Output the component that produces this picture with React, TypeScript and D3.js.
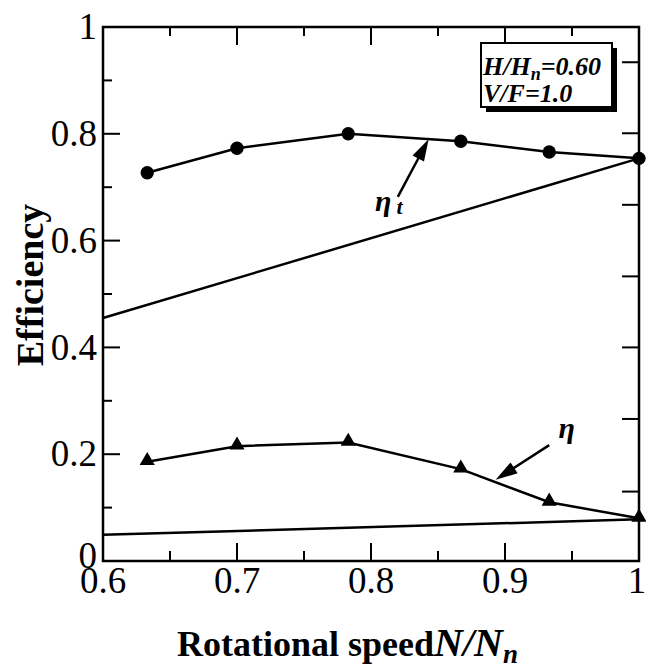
import React from "react";
import * as d3 from "d3";

// rotational speed N/Nn at the measured points
const speedRatio = [0.633, 0.7, 0.783, 0.867, 0.933, 1.0];
// total efficiency eta_t (circles)
const etaTotal = [0.727, 0.773, 0.8, 0.786, 0.766, 0.754];
// efficiency eta (triangles)
const etaPump = [0.186, 0.215, 0.222, 0.172, 0.11, 0.08];

// straight reference lines
const refSpeed = [0.6, 1.0];
const refEtaTotal = [0.455, 0.754];
const refEtaPump = [0.049, 0.078];

const xMajor = [0.6, 0.7, 0.8, 0.9, 1.0];
const xMinor = [0.65, 0.75, 0.85, 0.95];
const xTickLabels = ["0.6", "0.7", "0.8", "0.9", "1"];
const yMajor = [0, 0.2, 0.4, 0.6, 0.8, 1.0];
const yMinor = [0.1, 0.3, 0.5, 0.7, 0.9];
const yTickLabels = ["0", "0.2", "0.4", "0.6", "0.8", "1"];
// right-hand frame ticks (separate spacing)
const rightTicks = [0.934, 0.801, 0.667, 0.533, 0.4, 0.266, 0.13];

const W = 646,
  H = 672;
const left = 103,
  right = 639,
  top = 27,
  bottom = 561;
const serif = "Liberation Serif";

function arrow(x1: number, y1: number, x2: number, y2: number, len = 22, half = 6.5) {
  const dx = x2 - x1,
    dy = y2 - y1;
  const d = Math.sqrt(dx * dx + dy * dy);
  const ux = dx / d,
    uy = dy / d;
  const bx = x2 - ux * len,
    by = y2 - uy * len;
  const p = d3.path();
  p.moveTo(x2, y2);
  p.lineTo(bx - uy * half, by + ux * half);
  p.lineTo(bx + uy * half, by - ux * half);
  p.closePath();
  return { shaft: [x1, y1, bx + ux * 4, by + uy * 4], head: p.toString() };
}

export default function App() {
  const x = d3.scaleLinear().domain([0.6, 1.0]).range([left, right]);
  const y = d3.scaleLinear().domain([0, 1]).range([bottom, top]);

  const line = d3
    .line<[number, number]>()
    .x((d) => x(d[0]))
    .y((d) => y(d[1]));

  const tot = speedRatio.map((s, i) => [s, etaTotal[i]] as [number, number]);
  const pump = speedRatio.map((s, i) => [s, etaPump[i]] as [number, number]);
  const refTot = refSpeed.map((s, i) => [s, refEtaTotal[i]] as [number, number]);
  const refPump = refSpeed.map((s, i) => [s, refEtaPump[i]] as [number, number]);

  const tri = d3.symbol(d3.symbolTriangle, 100)();
  const dot = d3.symbol(d3.symbolCircle, 140)();

  const a1 = arrow(x(0.82), y(0.682), x(0.843), y(0.79));
  const a2 = arrow(x(0.933), y(0.217), x(0.893), y(0.152));

  return (
    <svg
      width={W}
      height={H}
      style={{ position: "absolute", left: 0, top: 0, background: "#fff", fontFamily: serif }}
    >
      {/* frame */}
      <rect
        x={left}
        y={top}
        width={right - left}
        height={bottom - top}
        fill="none"
        stroke="#000"
        strokeWidth={2.5}
      />

      {/* ticks */}
      {xMajor.map((v) => (
        <g key={"xM" + v}>
          <line x1={x(v)} x2={x(v)} y1={bottom} y2={bottom - 18} stroke="#000" strokeWidth={2} />
          <line x1={x(v)} x2={x(v)} y1={top} y2={top + 18} stroke="#000" strokeWidth={2} />
        </g>
      ))}
      {xMinor.map((v) => (
        <g key={"xm" + v}>
          <line x1={x(v)} x2={x(v)} y1={bottom} y2={bottom - 10} stroke="#000" strokeWidth={2} />
          <line x1={x(v)} x2={x(v)} y1={top} y2={top + 9} stroke="#000" strokeWidth={2} />
        </g>
      ))}
      {yMajor.map((v) => (
        <line key={"yM" + v} x1={left} x2={left + 17} y1={y(v)} y2={y(v)} stroke="#000" strokeWidth={2} />
      ))}
      {yMinor.map((v) => (
        <line key={"ym" + v} x1={left} x2={left + 9} y1={y(v)} y2={y(v)} stroke="#000" strokeWidth={2} />
      ))}
      {rightTicks.map((v) => (
        <line key={"r" + v} x1={right} x2={right - 17} y1={y(v)} y2={y(v)} stroke="#000" strokeWidth={2} />
      ))}

      {/* tick labels */}
      {xMajor.map((v, i) => (
        <text
          key={"xl" + v}
          x={x(v) - (i === xMajor.length - 1 ? 2 : 0)}
          y={bottom + 32}
          textAnchor="middle"
          fontFamily={serif}
          fontSize={37}
        >
          {xTickLabels[i]}
        </text>
      ))}
      {yMajor.map((v, i) => (
        <text
          key={"yl" + v}
          x={left - 6}
          y={y(v) - (i === 0 ? 5 : 0)}
          dy="0.33em"
          textAnchor="end"
          fontFamily={serif}
          fontSize={37}
        >
          {yTickLabels[i]}
        </text>
      ))}

      {/* reference lines */}
      <path d={line(refTot) || ""} fill="none" stroke="#000" strokeWidth={2.5} />
      <path d={line(refPump) || ""} fill="none" stroke="#000" strokeWidth={2.5} />

      {/* measured curves */}
      <path d={line(tot) || ""} fill="none" stroke="#000" strokeWidth={2.5} />
      <path d={line(pump) || ""} fill="none" stroke="#000" strokeWidth={2.5} />
      {tot.map((d, i) => (
        <path key={"c" + i} d={dot || ""} transform={`translate(${x(d[0])},${y(d[1])})`} fill="#000" />
      ))}
      {pump.map((d, i) => (
        <path key={"t" + i} d={tri || ""} transform={`translate(${x(d[0])},${y(d[1]) - 1})`} fill="#000" />
      ))}

      {/* annotations */}
      <line x1={a1.shaft[0]} y1={a1.shaft[1]} x2={a1.shaft[2]} y2={a1.shaft[3]} stroke="#000" strokeWidth={2.5} />
      <path d={a1.head} fill="#000" />
      <line x1={a2.shaft[0]} y1={a2.shaft[1]} x2={a2.shaft[2]} y2={a2.shaft[3]} stroke="#000" strokeWidth={2.5} />
      <path d={a2.head} fill="#000" />
      <text x={x(0.803)} y={y(0.655)} fontFamily={serif} fontSize={30} fontStyle="italic" fontWeight="bold">
        η
        <tspan dx={5} dy={3} fontSize={22}>
          t
        </tspan>
      </text>
      <text x={x(0.94)} y={y(0.23)} fontFamily={serif} fontSize={30} fontStyle="italic" fontWeight="bold">
        η
      </text>

      {/* condition box */}
      <rect x={486} y={48} width={131} height={64} fill="#000" />
      <rect x={481} y={43} width={131} height={64} fill="#fff" stroke="#000" strokeWidth={2} />
      <text x={483} y={75} fontFamily={serif} fontSize={26} fontStyle="italic" fontWeight="bold">
        H/H
        <tspan dy={5} fontSize={18}>
          n
        </tspan>
        <tspan dy={-5}>=0.60</tspan>
      </text>
      <text x={483} y={102} fontFamily={serif} fontSize={26} fontStyle="italic" fontWeight="bold">
        V/F=1.0
      </text>

      {/* axis titles */}
      <text
        transform={`translate(43,285) rotate(-90)`}
        textAnchor="middle"
        fontFamily={serif}
        fontSize={38}
        fontWeight="bold"
      >
        Efficiency
      </text>
      <text x={177} y={656} fontFamily={serif} fontSize={36} fontWeight="bold">
        Rotational speed
        <tspan fontStyle="italic" fontSize={40}>N/N</tspan>
        <tspan fontStyle="italic" fontSize={27} dy={7}>
          n
        </tspan>
      </text>
    </svg>
  );
}
